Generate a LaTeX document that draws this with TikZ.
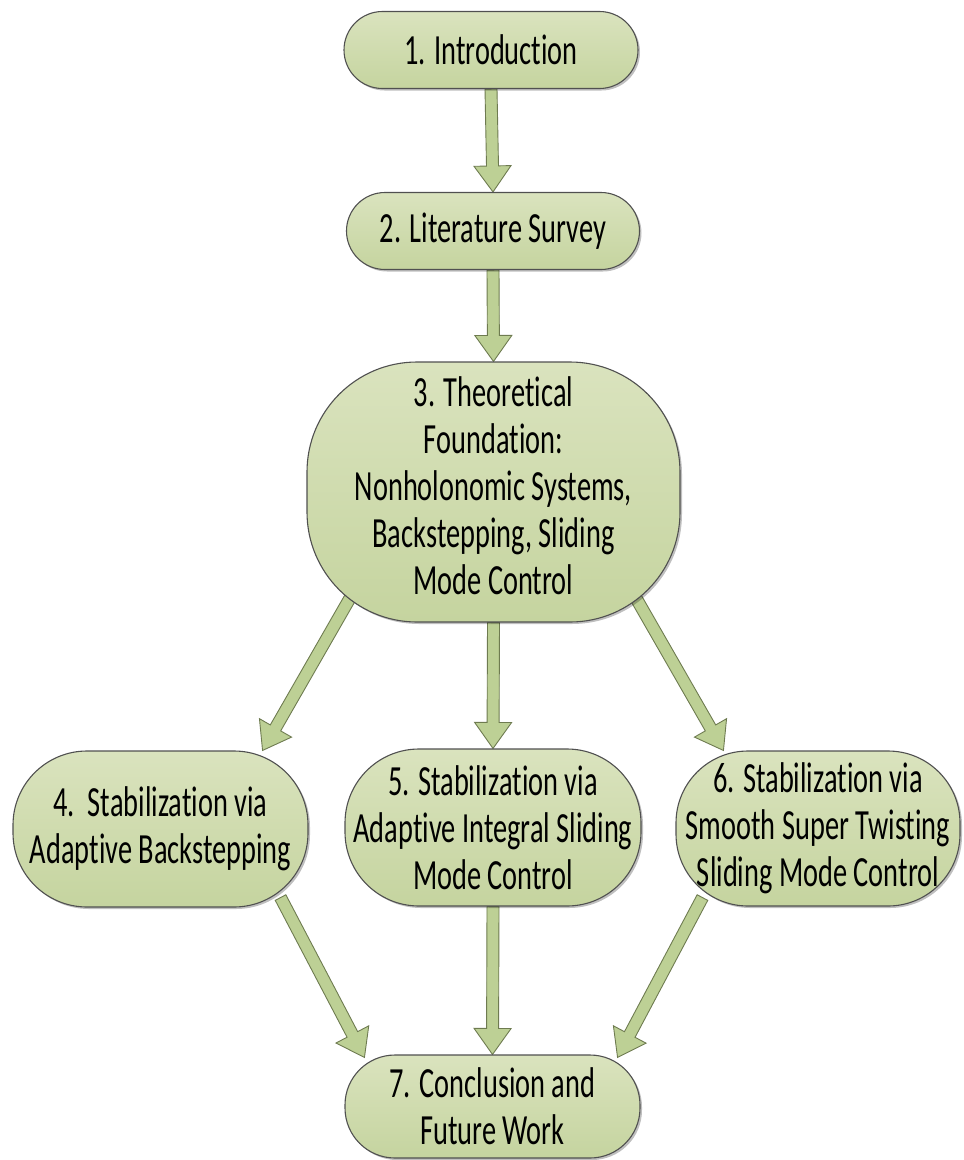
\documentclass[tikz,border=0pt]{standalone}
\usepackage{fontspec}
\setmainfont{Carlito}[FakeStretch=0.66, Ligatures=NoCommon]
\usetikzlibrary{calc,shadows}
\definecolor{boxtop}{HTML}{DAE3BE}
\definecolor{boxbot}{HTML}{C5D49F}
\definecolor{boxline}{HTML}{505050}
\definecolor{arrfill}{HTML}{BDD095}
\definecolor{arrline}{HTML}{6E7B50}
\pgfdeclarelayer{bg}
\pgfsetlayers{bg,main}
\tikzset{
  boxtext/.style={align=center, font=\fontsize{43}{47}\selectfont, inner sep=0pt},
  box/.style={boxtext, draw=boxline, line width=1.1pt, top color=boxtop, bottom color=boxbot,
    drop shadow={shadow xshift=2pt, shadow yshift=-2pt, opacity=0.25, fill=black}},
  barrow/.style={draw=arrline, line width=0.9pt, fill=arrfill, line join=miter},
}
\newcommand\blockarrow[2]{%
  \draw[barrow] let \p1=(#1), \p2=(#2),
     \n1={atan2(\y2-\y1,\x2-\x1)}, \n2={veclen(\x2-\x1,\y2-\y1)} in
     [shift={(\p1)}, rotate=\n1]
     (0,-6) -- ({\n2-26},-6) -- ({\n2-26},-18.5) -- (\n2,0) -- ({\n2-26},18.5) -- ({\n2-26},6) -- (0,6) -- cycle;}
\begin{document}
\begin{tikzpicture}[x=1pt,y=1pt]
\useasboundingbox (0,-1160) rectangle (964,0);
\node[box, minimum width=294, minimum height=77, rounded corners=38.5] (n1) at (491,-50) {1. Introduction};
\node[box, minimum width=293, minimum height=77, rounded corners=38.5] (n2) at (493,-231) {2. Literature Survey};
\node[box, minimum width=373, minimum height=260, rounded corners=110] (n3) at (493.5,-492) {};
\node[boxtext] (n3t) at ($(n3.center)+(0,6)$)
  {3. Theoretical\\Foundation:\\Nonholonomic Systems,\\Backstepping, Sliding\\Mode Control};
\node[box, minimum width=295, minimum height=156, rounded corners=74] (n4) at (160.5,-829)
  {4.\ \ Stabilization via\\Adaptive Backstepping};
\node[box, minimum width=296, minimum height=157, rounded corners=74] (n5) at (493,-827.5)
  {5. Stabilization via\\Adaptive Integral Sliding\\Mode Control};
\node[box, minimum width=284, minimum height=155, rounded corners=72] (n6) at (818,-828.5)
  {6. Stabilization via\\Smooth Super Twisting\\Sliding Mode Control};
\node[box, minimum width=295, minimum height=103, rounded corners=50] (n7) at (492.5,-1106.5)
  {7. Conclusion and\\Future Work};
\coordinate (s34) at ($(n3.south west)+(45,27)$);
\coordinate (e34) at ($(n4.north east)+(-46,0)$);
\coordinate (s36) at ($(n3.south east)+(-46,27)$);
\coordinate (e36) at ($(n6.north west)+(48,0)$);
\coordinate (s47) at ($(n4.south east)+(-28,10)$);
\coordinate (e47) at ($(n7.north west)+(20,-3)$);
\coordinate (s67) at ($(n6.south west)+(27,9)$);
\coordinate (e67) at ($(n7.north east)+(-23,-3)$);
\begin{pgfonlayer}{bg}
\blockarrow{n1.south}{n2.north}
\blockarrow{n2.south}{n3.north}
\blockarrow{n3.south}{n5.north}
\blockarrow{s34}{e34}
\blockarrow{s36}{e36}
\blockarrow{n5.south}{n7.north}
\blockarrow{s47}{e47}
\blockarrow{s67}{e67}
\end{pgfonlayer}
\end{tikzpicture}
\end{document}
